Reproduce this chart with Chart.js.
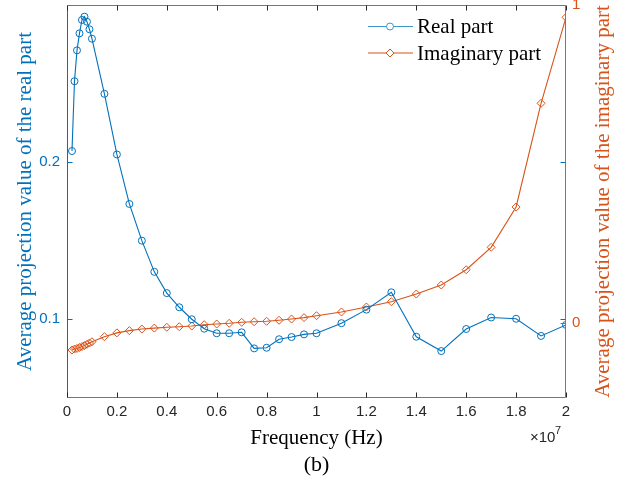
<!DOCTYPE html>
<html>
<head>
<meta charset="utf-8">
<title>Average projection value vs frequency</title>
<script src="https://cdn.jsdelivr.net/npm/chart.js@4.4.1/dist/chart.umd.min.js"></script>
<style>
    html, body { margin: 0; padding: 0; background: #fff; }
    #chart { display: block; }
</style>
</head>
<body>
<canvas id="chart" width="629" height="488"></canvas>
<script>
// Sweep frequencies (Hz)
const frequencyHz = [
    0.2e6, 0.3e6, 0.4e6, 0.5e6, 0.6e6, 0.7e6, 0.8e6, 0.9e6, 1.0e6,
    1.5e6, 2.0e6, 2.5e6, 3.0e6, 3.5e6, 4.0e6, 4.5e6, 5.0e6, 5.5e6,
    6.0e6, 6.5e6, 7.0e6, 7.5e6, 8.0e6, 8.5e6, 9.0e6, 9.5e6, 10e6,
    11e6, 12e6, 13e6, 14e6, 15e6, 16e6, 17e6, 18e6, 19e6, 20e6
];

// Average projection value, real part (left axis)
const realPart = [
    0.2068, 0.2511, 0.2707, 0.2815, 0.2900, 0.2921, 0.2889, 0.2841, 0.2781,
    0.2431, 0.2046, 0.1732, 0.1499, 0.1301, 0.1166, 0.1076, 0.1000, 0.0940,
    0.0911, 0.0911, 0.0917, 0.0815, 0.0819, 0.0873, 0.0887, 0.0904, 0.0911,
    0.0975, 0.1061, 0.1171, 0.0889, 0.0798, 0.0938, 0.1011, 0.1003, 0.0894, 0.0964
];

// Average projection value, imaginary part (right axis)
const imagPart = [
    -0.086, -0.083, -0.081, -0.078, -0.075, -0.072, -0.068, -0.064, -0.060,
    -0.044, -0.032, -0.025, -0.020, -0.017, -0.0145, -0.0126, -0.0104, -0.0063,
    -0.0041, -0.0019, 0.0013, 0.0031, 0.0044, 0.0076, 0.0116, 0.016, 0.022,
    0.0337, 0.0494, 0.0661, 0.0903, 0.1187, 0.1668, 0.2373, 0.3642, 0.6906, 0.9613
];

const realTicks = [0.1, 0.2];
const imagTicks = [0, 1];
const seriesLabels = ['Real part', 'Imaginary part'];

const BLUE = '#0072BD';
const ORANGE = '#D95319';
const AXIS = '#262626';
const SERIF = '"Liberation Serif", "Times New Roman", serif';
const SANS = '"Liberation Sans", Arial, sans-serif';

const toPoints = ys => frequencyHz.map((f, i) => ({ x: f, y: ys[i] }));

// keep the plot box fixed: no extra room for edge tick labels
const fixSize = (w, h) => s => {
    if (w) s.width = w;
    if (h) s.height = h;
    s.paddingTop = s.paddingBottom = s.paddingLeft = s.paddingRight = 0;
};

// Box, inward tick marks, labels and legend drawn MATLAB style
const framePlugin = {
    id: 'frame',
    afterDraw(chart) {
        const { ctx, chartArea: a, scales } = chart;
        const tl = 5;
        ctx.save();
        ctx.lineWidth = 1;

        const line = (x1, y1, x2, y2, color) => {
            ctx.strokeStyle = color;
            ctx.beginPath();
            ctx.moveTo(x1, y1);
            ctx.lineTo(x2, y2);
            ctx.stroke();
        };

        const L = Math.round(a.left) + 0.5;
        const R = Math.round(a.right) - 0.5;
        const T = Math.round(a.top) + 0.5;
        const B = Math.round(a.bottom) - 0.5;

        line(L, T, R, T, '#777');
        line(L, B, R, B, '#777');
        line(L, T, L, B, BLUE);
        line(R, T, R, B, '#a06a5c');

        scales.x.ticks.forEach(t => {
            const x = Math.round(scales.x.getPixelForValue(t.value)) + 0.5;
            line(x, B, x, B - tl, AXIS);
            line(x, T, x, T + tl, AXIS);
        });
        realTicks.forEach(v => {
            const y = Math.round(scales.yReal.getPixelForValue(v)) + 0.5;
            line(L, y, L + tl, y, BLUE);
            line(R, y, R - tl, y, BLUE);
        });
        imagTicks.forEach(v => {
            const y = Math.round(scales.yImag.getPixelForValue(v)) + 0.5;
            line(R, y, R - tl, y, ORANGE);
        });

        // axis titles
        const midY = (a.top + a.bottom) / 2;
        ctx.textAlign = 'center';
        ctx.textBaseline = 'middle';
        ctx.font = '21px ' + SERIF;
        ctx.fillStyle = BLUE;
        ctx.save();
        ctx.translate(25, midY);
        ctx.rotate(-Math.PI / 2);
        ctx.fillText('Average projection value of the real part', 0, 0);
        ctx.restore();
        ctx.fillStyle = ORANGE;
        ctx.save();
        ctx.translate(603, midY);
        ctx.rotate(-Math.PI / 2);
        ctx.fillText('Average projection value of the imaginary part', 0, 0);
        ctx.restore();

        ctx.fillStyle = '#000';
        ctx.fillText('Frequency (Hz)', (a.left + a.right) / 2, 438);
        ctx.font = '22px ' + SERIF;
        ctx.fillText('(b)', (a.left + a.right) / 2, 465);

        // exponent label
        ctx.fillStyle = AXIS;
        ctx.textAlign = 'left';
        ctx.font = '15px ' + SANS;
        ctx.fillText('\u00d710', 530, 438);
        ctx.font = '11px ' + SANS;
        ctx.fillText('7', 555, 431);

        // legend
        const items = [
            { label: seriesLabels[0], color: '#3d95d0', style: 'circle', r: 3.5 },
            { label: seriesLabels[1], color: ORANGE, style: 'rectRot', r: 4 }
        ];
        items.forEach((it, i) => {
            const y = 26.5 + i * 26.5;
            line(368, y, 413, y, it.color);
            ctx.strokeStyle = it.color;
            ctx.fillStyle = '#fff';
            Chart.helpers.drawPoint(ctx, {
                pointStyle: it.style, radius: it.r, borderWidth: 1
            }, 390, y);
            ctx.fillStyle = '#000';
            ctx.font = '21px ' + SERIF;
            ctx.textAlign = 'left';
            ctx.fillText(it.label, 417, y + 1);
        });

        ctx.restore();
    }
};

new Chart(document.getElementById('chart'), {
    type: 'line',
    data: {
        datasets: [{
            label: seriesLabels[0],
            data: toPoints(realPart),
            yAxisID: 'yReal',
            borderColor: BLUE,
            borderWidth: 1.1,
            pointStyle: 'circle',
            pointRadius: 3.5,
            pointBorderWidth: 1,
            pointBorderColor: BLUE,
            pointBackgroundColor: 'rgba(0,0,0,0)',
            tension: 0
        }, {
            label: seriesLabels[1],
            data: toPoints(imagPart),
            yAxisID: 'yImag',
            borderColor: ORANGE,
            borderWidth: 1.1,
            pointStyle: 'rectRot',
            pointRadius: 4,
            pointBorderWidth: 1,
            pointBorderColor: ORANGE,
            pointBackgroundColor: 'rgba(0,0,0,0)',
            tension: 0
        }]
    },
    options: {
        responsive: false,
        animation: false,
        layout: { padding: { top: 5, left: 0, right: 0, bottom: 0 } },
        plugins: {
            legend: { display: false },
            tooltip: { enabled: false }
        },
        scales: {
            x: {
                type: 'linear',
                min: 0,
                max: 2e7,
                grid: { display: false, drawTicks: false },
                border: { display: false },
                ticks: {
                    stepSize: 2e6,
                    padding: 5,
                    color: AXIS,
                    font: { family: SANS, size: 15 },
                    maxRotation: 0,
                    callback: v => String(Number((v / 1e7).toFixed(1)))
                },
                afterFit: fixSize(0, 90)
            },
            yReal: {
                type: 'linear',
                position: 'left',
                min: 0.05,
                max: 0.2995,
                grid: { display: false, drawTicks: false },
                border: { display: false },
                afterBuildTicks: s => { s.ticks = realTicks.map(v => ({ value: v })); },
                ticks: {
                    padding: 7,
                    color: BLUE,
                    font: { family: SANS, size: 15 },
                    callback: v => String(v)
                },
                afterFit: fixSize(67, 0)
            },
            yImag: {
                type: 'linear',
                position: 'right',
                min: -0.237,
                max: 1,
                grid: { display: false, drawTicks: false },
                border: { display: false },
                afterBuildTicks: s => { s.ticks = imagTicks.map(v => ({ value: v })); },
                ticks: {
                    padding: 6,
                    color: ORANGE,
                    font: { family: SANS, size: 15 },
                    callback: v => String(v)
                },
                afterFit: fixSize(63, 0)
            }
        }
    },
    plugins: [framePlugin]
});
</script>
</body>
</html>
